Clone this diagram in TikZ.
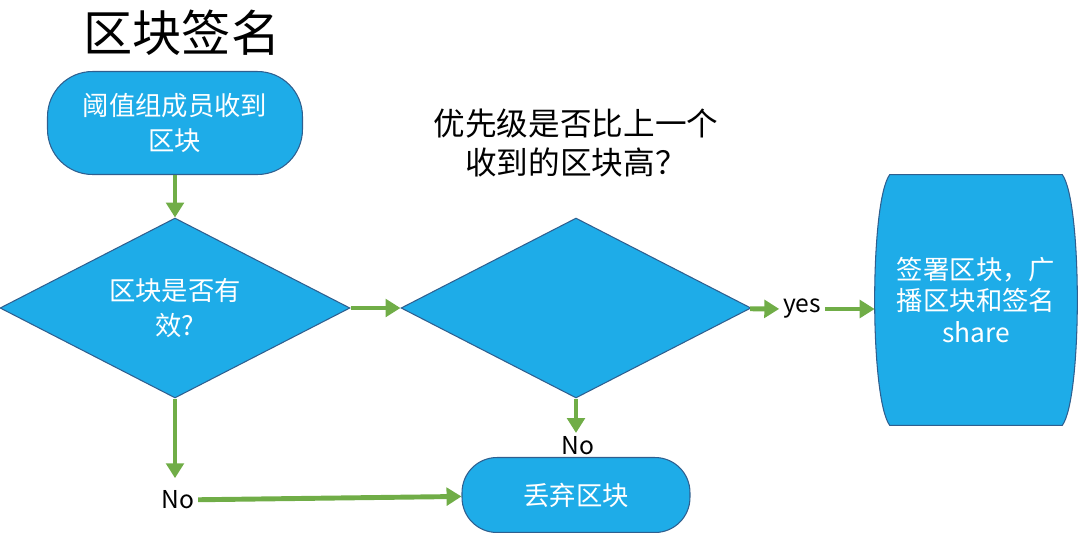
\documentclass[tikz,border=0pt]{standalone}
\usepackage{fontspec}
\setmainfont{Noto Sans CJK SC}
\usetikzlibrary{shapes.geometric,arrows.meta,backgrounds}
\definecolor{boxfill}{HTML}{1EACE8}
\definecolor{boxline}{HTML}{2F5F8F}
\definecolor{arrowgreen}{HTML}{70AD47}

\begin{document}
\begin{tikzpicture}[x=0.02cm,y=-0.02cm]

\tikzset{
  block/.style={draw=boxline,fill=boxfill,line width=0.6pt,text=white,align=center,
    font=\fontsize{15}{20}\selectfont,inner sep=0pt},
  decision/.style={block,diamond,aspect=1.94,minimum width=7cm,minimum height=3.6cm},
  flow/.style={draw=arrowgreen,line width=2.8pt,-{Triangle[length=8.5pt,width=10pt]}},
  answer/.style={font=\fontsize{14}{16}\selectfont,inner sep=2pt}
}

\useasboundingbox (0,0) rectangle (1080,532);

%% Title
\node[font=\fontsize{28}{32}\selectfont] (title) at (182,33) {区块签名};

%% Blocks
\node[block,rounded corners=0.9cm,minimum width=5.1cm,minimum height=2.06cm] (recv) at (175,123) {阈值组成员收到\\区块};
\node[decision] (valid) at (175,308) {区块是否有\\效?};
\node[decision] (prio) at (576,308) {};
\node[font=\fontsize{18}{22}\selectfont,align=center] (question) at (576,143) {优先级是否比上一个\\收到的区块高？};
\node[block,rounded corners=0.7cm,minimum width=4.56cm,minimum height=1.5cm] (drop) at (576,495) {丢弃区块};

%% Barrel
\node[text=white,align=center,font=\fontsize{15}{18}\selectfont,minimum width=4.04cm,minimum height=5cm,inner sep=0pt] (sign) at (976,300) {签署区块，广\\播区块和签名\\share};
\begin{scope}[on background layer]
\fill[draw=boxline,fill=boxfill,line width=0.6pt] ([xshift=0.3cm]sign.north west) -- ([xshift=-0.3cm]sign.north east)
  .. controls ([xshift=0.1cm,yshift=-0.55cm]sign.north east) and ([xshift=0.1cm,yshift=0.55cm]sign.south east) .. ([xshift=-0.3cm]sign.south east)
  -- ([xshift=0.3cm]sign.south west)
  .. controls ([xshift=-0.1cm,yshift=0.55cm]sign.south west) and ([xshift=-0.1cm,yshift=-0.55cm]sign.north west) .. cycle;
\end{scope}

%% Answers
\node[answer] (yes) at (802,309) {yes};
\node[answer] (nob) at (578,446) {No};
\node[answer] (noa) at (178,500) {No};

%% Arrows
\draw[flow] (recv) -- (valid);
\draw[flow] (valid) -- (prio);
\draw[flow] (prio) -- (yes);
\draw[flow] (yes) -- (yes -| sign.west);
\draw[flow] (prio.south) -- (prio.south |- nob.north);
\draw[flow,shorten >=5pt] (valid.south) -- (valid.south |- noa.north);
\draw[flow] (noa) -- (drop);

\end{tikzpicture}
\end{document}
